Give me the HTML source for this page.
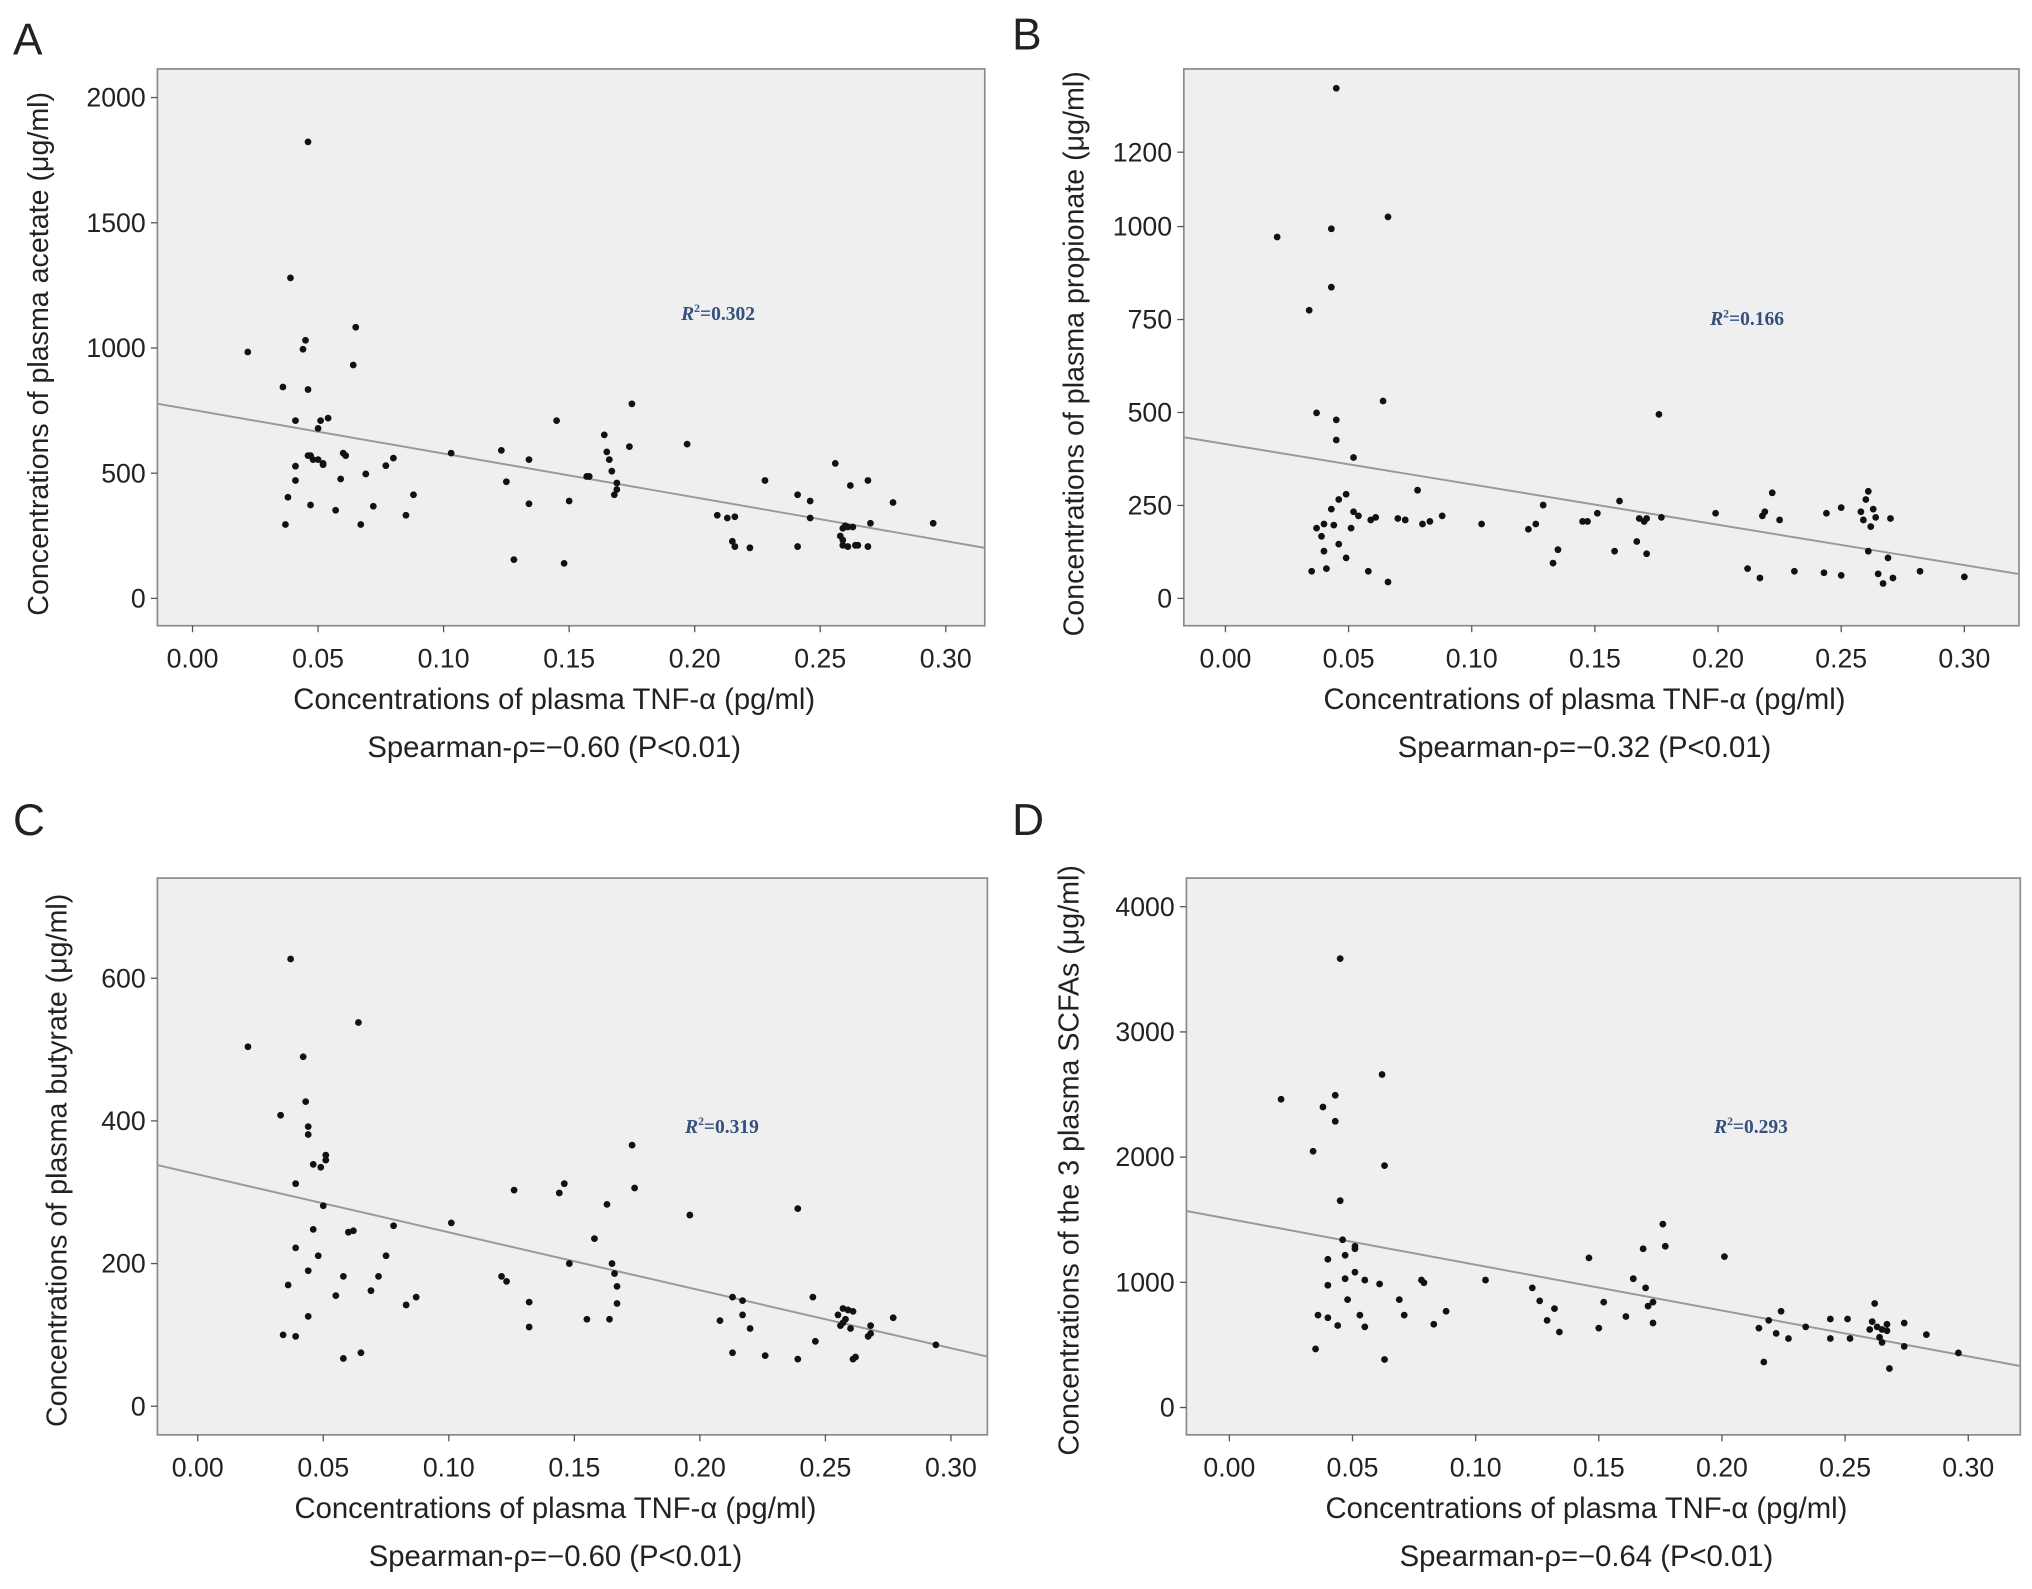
<!DOCTYPE html>
<html><head><meta charset="utf-8"><style>
html,body{margin:0;padding:0;background:#fff;}
svg{display:block;}
text{font-family:"Liberation Sans",Arial,sans-serif;fill:#222;}
</style></head><body>
<svg id="fig" xmlns="http://www.w3.org/2000/svg" width="2032" height="1589" viewBox="0 0 1562 1221.5" preserveAspectRatio="none"></svg>
<script>
// ---- Data ----
const xTicks=[0,0.05,0.10,0.15,0.20,0.25,0.30];
const xTickLabels=["0.00","0.05","0.10","0.15","0.20","0.25","0.30"];
const aTicks=[0,500,1000,1500,2000];
const bTicks=[0,250,500,750,1000,1200];
const cTicks=[0,200,400,600];
const dTicks=[0,1000,2000,3000,4000];
const aX=[0.022,0.036,0.037,0.038,0.039,0.041,0.041,0.041,0.044,0.045,0.046,0.046,0.047,0.046,0.047,0.048,0.050,0.050,0.051,0.052,0.052,0.054,0.057,0.059,0.060,0.061,0.064,0.065,0.067,0.069,0.072,0.077,0.080,0.085,0.088,0.103,0.123,0.125,0.128,0.134,0.134,0.145,0.148,0.150,0.157,0.158,0.164,0.165,0.166,0.167,0.168,0.169,0.169,0.174,0.175,0.197,0.209,0.213,0.215,0.216,0.216,0.222,0.228,0.241,0.241,0.246,0.246,0.256,0.258,0.259,0.259,0.259,0.260,0.261,0.261,0.262,0.263,0.264,0.265,0.269,0.269,0.270,0.279,0.295];
const aY=[984,844,295,404,1280,471,528,710,995,1031,834,1823,373,570,570,554,679,554,710,539,534,720,352,477,580,570,932,1083,295,497,368,530,560,332,414,580,591,466,155,554,378,710,140,389,487,487,653,585,554,508,414,435,461,606,777,616,332,321,228,326,207,202,471,207,414,321,389,539,249,233,280,212,290,207,285,451,285,212,212,207,471,300,383,300];
const bX=[0.021,0.034,0.035,0.037,0.037,0.039,0.040,0.040,0.041,0.043,0.043,0.043,0.044,0.045,0.045,0.045,0.046,0.046,0.049,0.049,0.051,0.052,0.052,0.054,0.058,0.059,0.061,0.064,0.066,0.066,0.070,0.073,0.078,0.080,0.083,0.088,0.104,0.123,0.126,0.129,0.133,0.135,0.145,0.147,0.151,0.158,0.160,0.167,0.168,0.170,0.171,0.171,0.176,0.177,0.199,0.212,0.217,0.218,0.219,0.222,0.225,0.231,0.243,0.244,0.250,0.250,0.258,0.259,0.260,0.261,0.261,0.262,0.263,0.264,0.265,0.267,0.269,0.270,0.271,0.282,0.300];
const bY=[972,775,73,189,499,167,127,200,80,240,994,837,197,1372,480,426,146,266,280,109,189,379,233,222,73,211,218,531,1026,44,215,211,291,200,207,222,200,186,200,251,95,131,207,207,229,127,262,153,215,207,120,215,495,218,229,80,55,222,233,284,211,73,69,229,244,62,233,211,266,288,127,193,240,218,66,40,109,215,55,73,58];
const cX=[0.020,0.033,0.034,0.036,0.037,0.039,0.039,0.039,0.042,0.043,0.044,0.044,0.044,0.044,0.046,0.046,0.048,0.049,0.050,0.051,0.051,0.055,0.058,0.058,0.060,0.062,0.064,0.065,0.069,0.072,0.075,0.078,0.083,0.087,0.101,0.121,0.123,0.126,0.132,0.132,0.144,0.146,0.148,0.155,0.158,0.163,0.164,0.165,0.166,0.167,0.167,0.173,0.174,0.196,0.208,0.213,0.213,0.217,0.217,0.220,0.226,0.239,0.239,0.245,0.246,0.255,0.256,0.257,0.257,0.258,0.259,0.260,0.261,0.261,0.262,0.267,0.268,0.268,0.277,0.294];
const cY=[504,408,100,170,627,312,98,222,490,427,190,392,381,126,248,339,211,335,281,352,345,155,182,67,244,246,538,75,162,182,211,253,142,153,257,182,175,303,146,111,299,312,200,122,235,283,122,200,186,144,168,366,306,268,120,153,75,148,128,109,71,277,66,153,91,128,113,137,117,122,135,109,66,133,69,98,102,113,124,86];
const dX=[0.021,0.034,0.035,0.036,0.038,0.040,0.040,0.040,0.043,0.043,0.044,0.045,0.045,0.046,0.047,0.047,0.048,0.051,0.051,0.051,0.053,0.055,0.055,0.062,0.063,0.063,0.061,0.069,0.071,0.078,0.079,0.083,0.088,0.104,0.123,0.126,0.129,0.132,0.134,0.146,0.150,0.152,0.161,0.164,0.168,0.169,0.170,0.172,0.172,0.176,0.177,0.201,0.215,0.217,0.219,0.222,0.224,0.227,0.234,0.244,0.244,0.251,0.252,0.260,0.261,0.262,0.263,0.264,0.265,0.265,0.267,0.267,0.268,0.274,0.274,0.283,0.296];
const dY=[2462,2047,468,738,2400,717,1184,977,2494,2286,655,3585,1652,1340,1029,1216,862,1288,1268,1081,738,644,1018,2660,1932,384,987,862,738,1018,997,665,769,1018,956,852,696,790,603,1195,634,842,727,1029,1268,956,810,675,842,1465,1288,1205,634,364,696,592,769,551,644,707,551,707,551,623,686,831,644,561,623,520,665,613,312,675,488,582,436];
const fitIntercepts=[753,415,325,1506];
const fitSlopes=[-1747,-1085,-812,-3657];
const r2Labels=["0.302","0.166","0.319","0.293"];
const rhoLabels=["\u22120.60","\u22120.32","\u22120.60","\u22120.64"];
const yTitles=["Concentrations of plasma acetate (\u03bcg/ml)","Concentrations of plasma propionate (\u03bcg/ml)","Concentrations of plasma butyrate (\u03bcg/ml)","Concentrations of the 3 plasma SCFAs (\u03bcg/ml)"];

// ---- Layout (display units) ----
const panels=[
 {id:"a",L:"A",fx:121,fy:53,fw:636,fh:428,x0:148,x1:727,v0:0,p0:460,v1:2000,p1:75,ytx:30,yty:272,lx:10,ly:42,r2x:552,r2y:246,xs:aX,ys:aY,yt:aTicks},
 {id:"b",L:"B",fx:910,fy:53,fw:642,fh:428,x0:942,x1:1510,v0:0,p0:460,v1:1200,p1:117,ytx:826,yty:272,lx:778,ly:38,r2x:1343,r2y:250,xs:bX,ys:bY,yt:bTicks},
 {id:"c",L:"C",fx:121,fy:675,fw:638,fh:428,x0:152,x1:731,v0:0,p0:1081,v1:600,p1:752,ytx:44,yty:892,lx:10,ly:642,r2x:555,r2y:871,xs:cX,ys:cY,yt:cTicks},
 {id:"d",L:"D",fx:912,fy:675,fw:641,fh:428,x0:945,x1:1513,v0:0,p0:1082,v1:4000,p1:697,ytx:822,yty:892,lx:778,ly:642,r2x:1346,r2y:871,xs:dX,ys:dY,yt:dTicks}
];
const NS="http://www.w3.org/2000/svg";
const svg=document.getElementById('fig');
function mk(tag,attrs,parent){const e=document.createElementNS(NS,tag);for(const k in attrs)e.setAttribute(k,attrs[k]);parent.appendChild(e);return e;}
panels.forEach((p,i)=>{
 const sx=v=>p.x0+(v-0)*(p.x1-p.x0)/0.3;
 const sy=v=>p.p0+(v-p.v0)*(p.p1-p.p0)/(p.v1-p.v0);
 const g=mk('g',{},svg);
 
 
 const lab=mk('text',{x:p.lx,y:p.ly,'font-size':34},g);lab.textContent=p.L;
 
 
 const fr=mk('rect',{x:p.fx,y:p.fy,width:p.fw,height:p.fh,fill:'#efefef',stroke:'#8a8a8a','stroke-width':1.3},g);
 
 
 p.yt.forEach(v=>{
  const y=sy(v);
  mk('line',{x1:p.fx-5,x2:p.fx,y1:y,y2:y,stroke:'#555','stroke-width':1},g);
  const t=mk('text',{x:p.fx-9,y:y+7,'font-size':20.5,'text-anchor':'end'},g);t.textContent=v;
  
  
 });
 xTicks.forEach((v,k)=>{
  const x=sx(v);
  mk('line',{x1:x,x2:x,y1:p.fy+p.fh,y2:p.fy+p.fh+5,stroke:'#555','stroke-width':1},g);
  const t=mk('text',{x:x,y:p.fy+p.fh+32,'font-size':20.5,'text-anchor':'middle'},g);t.textContent=xTickLabels[k];
  
  
 });
 const cx=p.fx+p.fw/2-13;
 const xt=mk('text',{x:cx,y:p.fy+p.fh+64,'font-size':22.5,'text-anchor':'middle'},g);xt.textContent="Concentrations of plasma TNF-\u03b1 (pg/ml)";
 
 
 const sp=mk('text',{x:cx,y:p.fy+p.fh+101,'font-size':22.5,'text-anchor':'middle'},g);sp.textContent="Spearman-\u03c1="+rhoLabels[i]+" (P<0.01)";
 
 
 const yt=mk('text',{x:0,y:0,'font-size':22,'text-anchor':'middle',transform:`translate(${p.ytx+7},${p.yty}) rotate(-90)`},g);yt.textContent=yTitles[i];
 
 
 const xa=(p.fx-p.x0)*0.3/(p.x1-p.x0), xb=(p.fx+p.fw-p.x0)*0.3/(p.x1-p.x0);
 const ln=mk('line',{x1:p.fx,y1:sy(fitIntercepts[i]+fitSlopes[i]*xa),x2:p.fx+p.fw,y2:sy(fitIntercepts[i]+fitSlopes[i]*xb),stroke:'#999','stroke-width':1.5},g);
 
 
 const r2=mk('text',{x:p.r2x,y:p.r2y,'font-size':15,'text-anchor':'middle','font-weight':'bold',style:'font-family:"Liberation Serif",serif;fill:#34507f'},g);
 r2.innerHTML='<tspan font-style="italic">R</tspan><tspan dy="-6" font-size="9">2</tspan><tspan dy="6">='+r2Labels[i]+'</tspan>';
 
 
 p.xs.forEach((xv,k)=>{
  const c=mk('circle',{cx:sx(xv),cy:sy(p.ys[k]),r:2.6,fill:'#111'},g);
  
  
 });
});
</script>
</body></html>
